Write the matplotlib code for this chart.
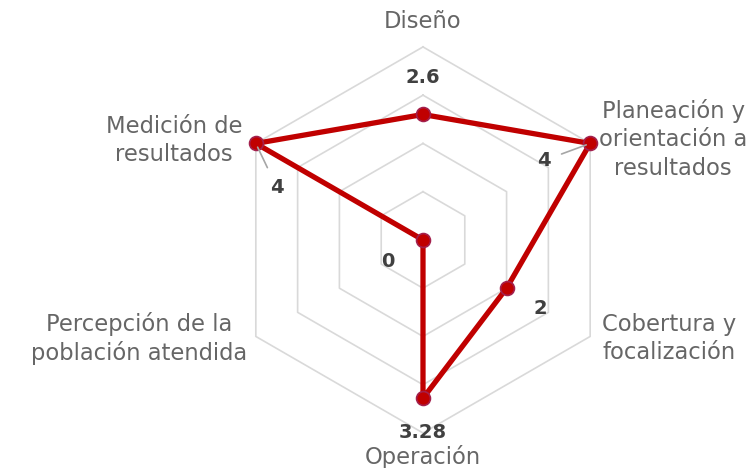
import numpy as np
import matplotlib
matplotlib.use("Agg")
from matplotlib import pyplot as plt

# chart data
categories = ["Diseño", "Planeación y\norientación a\nresultados", "Cobertura y\nfocalización",
              "Operación", "Percepción de la\npoblación atendida", "Medición de\nresultados"]
values = [2.6, 4, 2, 3.28, 0, 4]
value_labels = ["2.6", "4", "2", "3.28", "0", "4"]
rings = [1, 2, 3, 4]

# label offsets in pixels from the outer vertex / from the point
cat_offsets = [(0, 25), (83, 4), (79, -2), (0, -24), (-117, -2), (-82, 3)]
val_offsets = [(0, 37), (-46, -17), (34, -20), (0, -34), (-35, -22), (21, -44)]
leader = [False, True, False, False, False, True]

plt.rcParams['font.family'] = ['DejaVu Sans']

n = len(categories)
theta = np.arange(n) * 2 * np.pi / n

fig = plt.figure(figsize=(7.54, 4.68), dpi=100)
ax = fig.add_axes([0.305, 0.0748, 0.512, 0.825], projection='polar')
ax.set_theta_offset(np.pi / 2)
ax.set_theta_direction(-1)
ax.set_ylim(0, 4)
ax.axis('off')

# hexagon grid rings
th_closed = np.append(theta, theta[0])
for r in rings:
    ax.plot(th_closed, [r] * (n + 1), color='#d9d9d9', lw=1.2, zorder=1, clip_on=False)

# data polygon
vals_closed = values + [values[0]]
ax.plot(th_closed, vals_closed, color='#C00000', lw=3.8, zorder=3,
        solid_joinstyle='round', clip_on=False)
ax.plot(theta, values, 'o', color='#C00000', ms=10, mec='#A3204D', mew=1.2,
        zorder=4, clip_on=False)

# category labels
for t, lab, off in zip(theta, categories, cat_offsets):
    ax.annotate(lab, xy=(t, 4), xytext=off, textcoords='offset pixels',
                ha='center', va='center', fontsize=16.3, color='#666666',
                linespacing=1.3, annotation_clip=False)

# value labels
for t, v, lab, off, ld in zip(theta, values, value_labels, val_offsets, leader):
    props = None
    if ld:
        props = dict(arrowstyle='-', color='#a6a6a6', lw=1.2, shrinkA=6, shrinkB=3)
    ax.annotate(lab, xy=(t, v), xytext=off, textcoords='offset pixels',
                ha='center', va='center', fontsize=14, fontweight='bold',
                color='#404040', arrowprops=props, annotation_clip=False, zorder=5)

fig.savefig('out.png', dpi=100)
